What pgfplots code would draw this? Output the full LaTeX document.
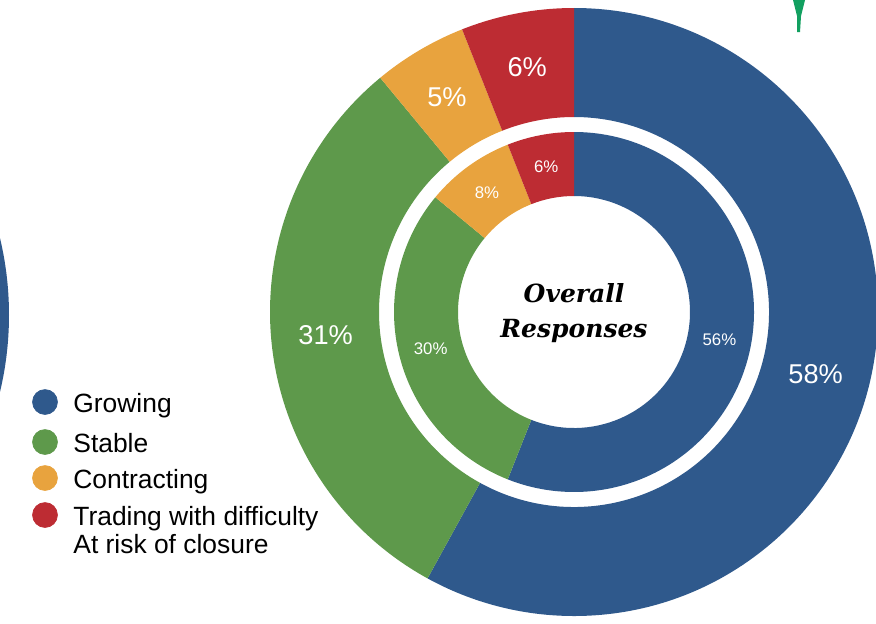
\documentclass[border=0pt]{standalone}
\usepackage{pgfplots}
\pgfplotsset{compat=1.18}
\usepackage{pgfplotstable}
\usepackage{fontspec}
\setmainfont{Liberation Sans}
\newfontfamily\slab{DejaVu Serif}

\definecolor{c0}{HTML}{2F598C}
\definecolor{c1}{HTML}{5E994B}
\definecolor{c2}{HTML}{E8A33E}
\definecolor{c3}{HTML}{BD2C33}
\definecolor{gline}{HTML}{12A060}

% outer ring
\pgfplotstableread{
val
58
31
5
6
}\ringout
% inner ring
\pgfplotstableread{
val
56
30
8
6
}\ringin

\newcommand\outfont{\fontsize{13.6}{16}\selectfont}
\newcommand\infont{\fontsize{8.4}{10}\selectfont}
\newcommand\legfont{\fontsize{13.2}{15}\selectfont}

% #1 table, #2 inner radius, #3 outer radius, #4 label font (units: axis px)
\newcommand\drawring[4]{%
  \xdef\acur{90}%
  \foreach \i in {0,...,3}{%
    \pgfplotstablegetelem{\i}{val}\of{#1}%
    \let\segval\pgfplotsretval
    \pgfmathsetmacro\aend{\acur-3.6*\segval}%
    \pgfmathsetmacro\amid{(\acur+\aend)/2}%
    \pgfmathsetmacro\xa{574+#3*cos(\acur)}%
    \pgfmathsetmacro\ya{311+#3*sin(\acur)}%
    \pgfmathsetmacro\xb{574+#2*cos(\aend)}%
    \pgfmathsetmacro\yb{311+#2*sin(\aend)}%
    \pgfmathsetmacro\xm{574+(#2+#3)/2*cos(\amid)}%
    \pgfmathsetmacro\ym{311+(#2+#3)/2*sin(\amid)}%
    \edef\tmp{\noexpand\fill[c\i] (axis cs:\xa,\ya)
        arc[start angle=\acur, end angle=\aend, radius=#3*0.5pt]
        -- (axis cs:\xb,\yb)
        arc[start angle=\aend, end angle=\acur, radius=#2*0.5pt] -- cycle;
      \noexpand\node[text=white, font=\noexpand#4] at (axis cs:\xm,\ym) {\segval\noexpand\%};}%
    \tmp
    \xdef\acur{\aend}%
  }%
}

\begin{document}
\begin{tikzpicture}
\begin{axis}[
  hide axis, scale only axis,
  width=438pt, height=311.5pt,
  xmin=0, xmax=876, ymin=0, ymax=623,
]
  \coordinate (bl) at (axis cs:0,0);
  \coordinate (tr) at (axis cs:876,623);

  % edge of the neighbouring chart
  \fill[c0] (axis cs:-321,308) circle[radius=165pt];
  \fill[gline] (axis cs:793,623) -- (axis cs:797,607) -- (axis cs:797,591)
     -- (axis cs:800,591) -- (axis cs:801,607) -- (axis cs:805,623) -- cycle;

  \drawring{\ringout}{195}{304}{\outfont}
  \drawring{\ringin}{116}{180}{\infont}

  \node[font=\slab\bfseries\itshape\fontsize{12.5}{17.5}\selectfont, align=center]
    at (axis cs:574,310) {Overall\\Responses};

  % legend
  \addplot[only marks, mark=*, mark size=6.2pt, c0] coordinates {(45,221)};
  \addplot[only marks, mark=*, mark size=6.2pt, c1] coordinates {(45,181)};
  \addplot[only marks, mark=*, mark size=6.2pt, c2] coordinates {(45,145)};
  \addplot[only marks, mark=*, mark size=6.2pt, c3] coordinates {(45,108)};
  \node[anchor=base west, inner sep=0pt, font=\legfont] at (axis cs:73,211) {Growing};
  \node[anchor=base west, inner sep=0pt, font=\legfont] at (axis cs:73,171) {Stable};
  \node[anchor=base west, inner sep=0pt, font=\legfont] at (axis cs:73,135) {Contracting};
  \node[anchor=base west, inner sep=0pt, font=\legfont] at (axis cs:73,98) {Trading with difficulty};
  \node[anchor=base west, inner sep=0pt, font=\legfont] at (axis cs:73,70) {At risk of closure};
\end{axis}
\pgfresetboundingbox
\useasboundingbox (bl) rectangle (tr);
\end{tikzpicture}
\end{document}
